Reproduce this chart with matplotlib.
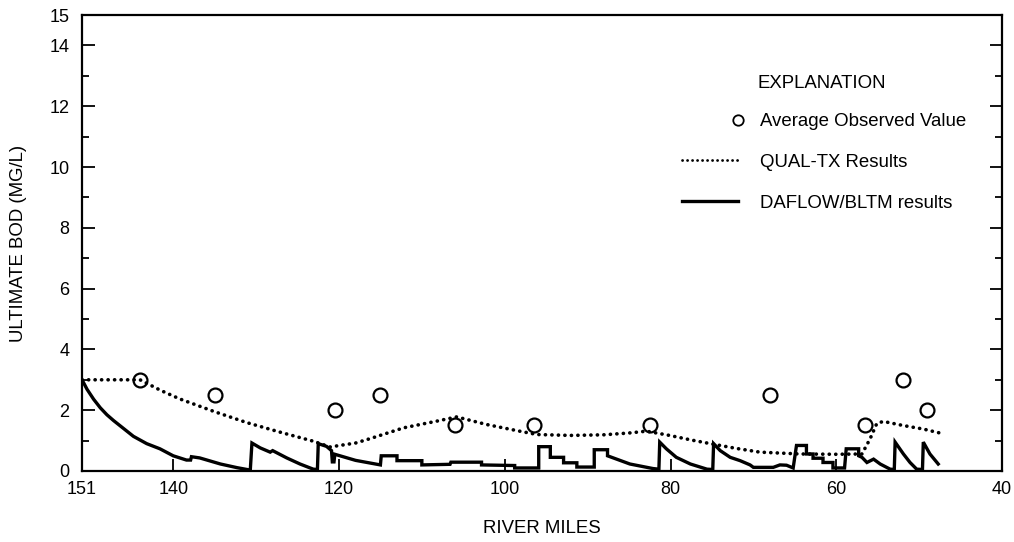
import matplotlib
matplotlib.use('Agg')
import matplotlib.pyplot as plt
from matplotlib.lines import Line2D
from matplotlib.legend_handler import HandlerLine2D

plt.rcParams['font.family'] = ['Liberation Sans', 'DejaVu Sans']

# average observed values
obs_miles = [144, 135, 120.5, 115, 106, 96.5, 82.5, 68, 56.5, 52, 49]
obs_bod = [3.0, 2.5, 2.0, 2.5, 1.5, 1.5, 1.5, 2.5, 1.5, 3.0, 2.0]

# QUAL-TX results (dotted)
qual_miles = [151, 147, 144, 141.5, 139.2, 135, 131.1, 127, 123.1, 121.1, 118, 116.3,
              112.2, 108.2, 105.8, 102.2, 98.2, 96.1, 92.1, 88.1, 85, 82.9, 80.1,
              77.5, 74.8, 72, 69.2, 64.4, 60, 56.9, 55.9, 55.1, 54.3, 52,
              49.5, 47.5]
qual_bod = [3.0, 3.0, 3.0, 2.65, 2.37, 1.95, 1.59, 1.27, 0.98, 0.79, 0.92, 1.06,
            1.42, 1.64, 1.78, 1.53, 1.31, 1.2, 1.17, 1.19, 1.25, 1.31, 1.17,
            1.02, 0.88, 0.74, 0.62, 0.56, 0.55, 0.56, 1.07, 1.57, 1.63, 1.5,
            1.38, 1.25]

# DAFLOW/BLTM results (solid)
daflow_miles = [151, 150.4, 149.6, 148.8, 148.0, 147.2, 146.0, 144.8, 143.2, 141.6,
                140, 138.4, 137.9, 137.8, 136.8, 134.3, 132.3, 130.7,
                130.5, 129.5, 128.3, 128.0, 126.3, 124.7, 123.1, 122.6,
                122.5, 121.5, 120.9, 120.8, 120.6, 120.5, 118, 115,
                114.9, 113, 113, 110, 110, 106.6, 106.5,
                102.8, 102.8, 98.8, 98.8, 95.9, 95.9, 94.5, 94.5, 92.9, 92.9, 91.3,
                91.3, 89.2, 89.2, 87.6, 87.6, 84.9, 82.1, 81.4,
                81.3, 80.5, 79.3, 77.6, 75.6, 74.9,
                74.8, 74.0, 72.8, 71.6, 70.4, 70, 67.6, 66.8, 66, 65.2,
                64.8, 63.6, 63.6, 62.8, 62.8, 61.6, 61.6, 60.4, 60.4, 59,
                58.8, 57.3, 57.3, 56.9, 56.3, 55.5, 54.7, 53.5, 53.0,
                52.9, 51.9, 51.1, 50.3, 49.6,
                49.5, 48.7, 47.7]
daflow_bod = [3.0, 2.69, 2.36, 2.08, 1.85, 1.66, 1.40, 1.14, 0.9, 0.73,
              0.5, 0.36, 0.36, 0.47, 0.43, 0.23, 0.11, 0.03,
              0.92, 0.76, 0.62, 0.67, 0.43, 0.23, 0.06, 0.05,
              0.9, 0.81, 0.67, 0.3, 0.3, 0.55, 0.35, 0.2,
              0.5, 0.5, 0.34, 0.34, 0.2, 0.22, 0.29,
              0.29, 0.2, 0.18, 0.1, 0.1, 0.8, 0.8, 0.45, 0.45, 0.27, 0.27,
              0.13, 0.13, 0.7, 0.7, 0.5, 0.23, 0.08, 0.06,
              0.95, 0.73, 0.45, 0.23, 0.06, 0.05,
              0.9, 0.67, 0.45, 0.34, 0.2, 0.12, 0.12, 0.2, 0.19, 0.1,
              0.84, 0.84, 0.56, 0.56, 0.42, 0.42, 0.28, 0.28, 0.1, 0.1,
              0.73, 0.73, 0.5, 0.45, 0.28, 0.39, 0.23, 0.06, 0.05,
              0.95, 0.56, 0.28, 0.06, 0.05,
              0.95, 0.56, 0.23]

x_ticks = [151, 140, 120, 100, 80, 60, 40]
y_ticks = [0, 2, 4, 6, 8, 10, 12, 14, 15]

DOTS = (0, (0.05, 1.75))


class RightMarkerHandler(HandlerLine2D):
    # legend key with the marker only at the right end of the key
    def create_artists(self, *args, **kwargs):
        artists = super().create_artists(*args, **kwargs)
        for a in artists:
            a.set_markevery([1])
        return artists


fig = plt.figure(figsize=(10.14, 5.42), dpi=100)
ax = fig.add_axes([0.0809, 0.131, 0.9073, 0.8413])

ax.plot(qual_miles, qual_bod, color='black', lw=2.6, ls=DOTS,
        dash_capstyle='round', label='QUAL-TX Results')
ax.plot(daflow_miles, daflow_bod, color='black', lw=2.4, solid_joinstyle='miter',
        label='DAFLOW/BLTM results')
ax.plot(obs_miles, obs_bod, ls='none', marker='o', ms=10, mfc='none', mec='black',
        mew=1.6, label='Average Observed Value')

ax.set_xlim(151, 40)
ax.set_ylim(0, 15)
ax.set_xticks(x_ticks)
ax.set_yticks(y_ticks)
ax.set_yticks(range(1, 15, 2), minor=True)
ax.tick_params(axis='both', which='both', direction='in', labelsize=13, width=1.3)
ax.tick_params(axis='x', which='major', length=9, pad=7)
ax.tick_params(axis='y', which='major', length=9, pad=9)
ax.tick_params(axis='y', which='minor', length=5)
ax.tick_params(axis='y', which='both', right=True)
for s in ax.spines.values():
    s.set_linewidth(1.6)

ax.set_xlabel('RIVER MILES', fontsize=13.4, labelpad=16)
ax.set_ylabel('ULTIMATE BOD (MG/L)', fontsize=13.4, labelpad=16)

# explanation (legend)
ax.text(0.734, 0.849, 'EXPLANATION', transform=ax.transAxes, fontsize=13.4,
        va='center', ha='left')
obs_key = Line2D([0, 1], [0, 0], ls='none', marker='o', ms=7.5, mfc='none',
                 mec='black', mew=1.3)
qual_key = Line2D([0, 1], [0, 0], color='black', lw=2.0, ls=DOTS,
                  dash_capstyle='round')
daflow_key = Line2D([0, 1], [0, 0], color='black', lw=2.4)
ax.legend([obs_key, qual_key, daflow_key],
          ['Average Observed Value', 'QUAL-TX Results', 'DAFLOW/BLTM results'],
          handler_map={obs_key: RightMarkerHandler(numpoints=2)},
          loc='upper left', bbox_to_anchor=(0.646, 0.785), frameon=False,
          fontsize=13.4, numpoints=2, handlelength=3.6, handletextpad=0.9,
          labelspacing=1.28, borderpad=0, borderaxespad=0)

plt.savefig('out.png', dpi=100)
